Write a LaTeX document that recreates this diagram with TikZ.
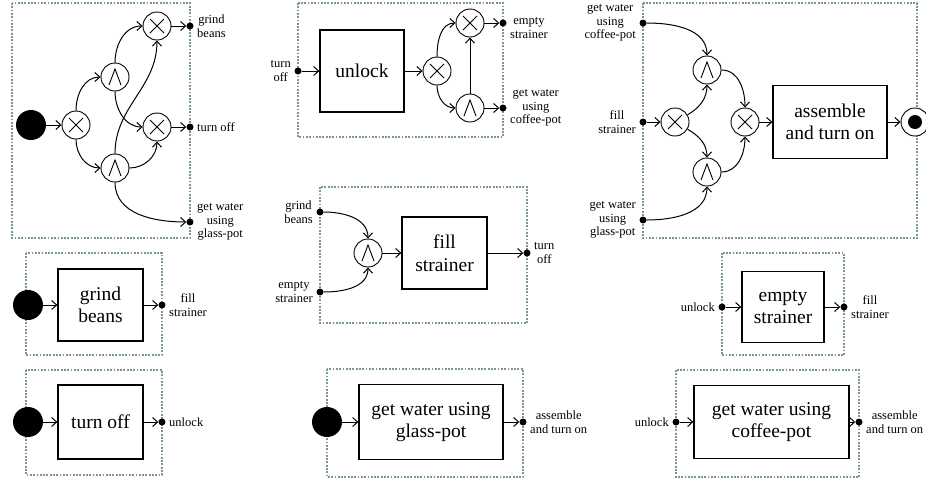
\documentclass[tikz,border=0pt]{standalone}
\usepackage{fontspec}
\setmainfont{Liberation Serif}
\usetikzlibrary{arrows.meta}
\definecolor{framegray}{RGB}{122,150,155}
\newcommand{\lblfont}{\fontsize{12.5}{13.5}\selectfont}
\newcommand{\taskfont}{\fontsize{19.5}{22.5}\selectfont}
\begin{document}
\begin{tikzpicture}[x=1pt, y=1pt,
            frame/.style={draw=framegray, line width=1.8pt, dash pattern=on 1.8pt off 1.5pt},
            gate/.style={circle, draw=black, line width=0.9pt, minimum size=28pt, inner sep=0pt},
            xorgate/.style={gate, path picture={\draw ([shift={(-7,-7)}]path picture bounding box.center) -- ++(14,14)
                ([shift={(-7,7)}]path picture bounding box.center) -- ++(14,-14);}},
            andgate/.style={gate, path picture={\draw ([shift={(-6,-8)}]path picture bounding box.center) -- ++(6,16) -- ++(6,-16);}},
            task/.style={draw=black, line width=1.3pt, align=center, font=\taskfont, inner sep=0pt},
            dot/.style={circle, fill=black, inner sep=0pt, minimum size=7pt},
            start/.style={circle, fill=black, inner sep=0pt, minimum size=30pt},
            endstate/.style={circle, draw=black, fill=white, line width=0.9pt, minimum size=28pt, inner sep=0pt,
                path picture={\fill[black] (path picture bounding box.center) circle (7);}},
            flow/.style={-{Straight Barb[length=5pt, width=9pt]}, line width=1pt},
            every label/.style={font=\lblfont, align=center}]
            \useasboundingbox (0,0) rectangle (926,-483);

            % choices after start
            \draw[frame] (12,-3) rectangle (190,-238);
            \node[start] (s1) at (31,-125) {};
            \node[xorgate] (p1x) at (76,-125) {};
            \node[andgate] (p1a) at (115,-77) {};
            \node[andgate] (p1b) at (115,-168) {};
            \node[xorgate] (p1y) at (157,-26) {};
            \node[xorgate] (p1z) at (157,-127) {};
            \node[dot, label=right:{grind\\beans}] (p1o1) at (190,-26) {};
            \node[dot, label=right:{turn off}] (p1o2) at (190,-127) {};
            \node[dot, label=right:{get water\\using\\glass-pot}] (p1o3) at (190,-222) {};
            \draw[flow] (s1) -- (p1x);
            \draw[flow] (p1x) to[out=90, in=180] (p1a);
            \draw[flow] (p1x) to[out=-90, in=180] (p1b);
            \draw[flow] (p1a) to[out=90, in=180] (p1y);
            \draw[flow] (p1a) to[out=-90, in=180] (p1z);
            \draw[flow] (p1b) to[out=90, in=-90] (p1y);
            \draw[flow] (p1b) to[out=0, in=-90] (p1z);
            \draw[flow] (p1b) to[out=-90, in=180] (p1o3);
            \draw[flow] (p1y) -- (p1o1);
            \draw[flow] (p1z) -- (p1o2);

            % unlock
            \draw[frame] (298,-3) rectangle (503,-137);
            \node[dot, label=left:{turn\\off}] (p2i) at (298,-71) {};
            \node[task, minimum width=84pt, minimum height=82pt] (unlock) at (362,-71) {unlock};
            \node[xorgate] (p2x) at (437,-71) {};
            \node[xorgate] (p2y) at (470,-23) {};
            \node[andgate] (p2a) at (470,-108) {};
            \node[dot, label={[yshift=-5pt]right:{empty\\strainer}}] (p2o1) at (503,-23) {};
            \node[dot, label=right:{get water\\using\\coffee-pot}] (p2o2) at (503,-108) {};
            \draw[flow] (p2i) -- (unlock);
            \draw[flow] (unlock) -- (p2x);
            \draw[flow] (p2x) to[out=90, in=180] (p2y);
            \draw[flow] (p2x) to[out=-90, in=180] (p2a);
            \draw[flow] (p2a) -- (p2y);
            \draw[flow] (p2y) -- (p2o1);
            \draw[flow] (p2a) -- (p2o2);

            % assemble and turn on
            \draw[frame] (643,-3) rectangle (917,-238);
            \node[dot, label=left:{get water\\using\\coffee-pot}] (p3i1) at (643,-23) {};
            \node[dot, label=left:{fill\\strainer}] (p3i2) at (643,-122) {};
            \node[dot, label=left:{get water\\using\\glass-pot}] (p3i3) at (643,-220) {};
            \node[xorgate] (p3x) at (675,-122) {};
            \node[andgate] (p3a) at (707,-70) {};
            \node[andgate] (p3b) at (707,-172) {};
            \node[xorgate] (p3y) at (745,-122) {};
            \node[task, minimum width=114pt, minimum height=73pt] (assemble) at (830,-122) {assemble\\and turn on};
            \node[endstate] (p3e) at (915,-122) {};
            \draw[flow] (p3i1) to[out=0, in=90] (p3a);
            \draw[flow] (p3i2) -- (p3x);
            \draw[flow] (p3x) to[out=30, in=-90] (p3a);
            \draw[flow] (p3x) to[out=-30, in=90] (p3b);
            \draw[flow] (p3i3) to[out=0, in=-90] (p3b);
            \draw[flow] (p3a) to[out=0, in=90] (p3y);
            \draw[flow] (p3b) to[out=0, in=-90] (p3y);
            \draw[flow] (p3y) -- (assemble);
            \draw[flow] (assemble) -- (p3e);

            % fill strainer
            \draw[frame] (320,-187) rectangle (527,-323);
            \node[dot, label=left:{grind\\beans}] (p4i1) at (320,-212) {};
            \node[dot, label=left:{empty\\strainer}] (p4i2) at (320,-292) {};
            \node[andgate] (p4a) at (368,-253) {};
            \node[task, minimum width=85pt, minimum height=72pt] (fill) at (444.5,-253) {fill\\strainer};
            \node[dot, label=right:{turn\\off}] (p4o) at (527,-253) {};
            \draw[flow] (p4i1) to[out=0, in=90] (p4a);
            \draw[flow] (p4i2) to[out=0, in=-90] (p4a);
            \draw[flow] (p4a) -- (fill);
            \draw[flow] (fill) -- (p4o);

            % grind beans
            \draw[frame] (26,-253) rectangle (162,-355);
            \node[start] (s5) at (28,-305) {};
            \node[task, minimum width=85pt, minimum height=72pt] (grind) at (100.5,-305) {grind\\beans};
            \node[dot, label=right:{fill\\strainer}] (p5o) at (162,-305) {};
            \draw[flow] (s5) -- (grind);
            \draw[flow] (grind) -- (p5o);

            % turn off
            \draw[frame] (26,-370) rectangle (162,-475);
            \node[start] (s6) at (28,-422) {};
            \node[task, minimum width=85pt, minimum height=74pt] (turnoff) at (100.5,-422) {turn off};
            \node[dot, label=right:{unlock}] (p6o) at (162,-422) {};
            \draw[flow] (s6) -- (turnoff);
            \draw[flow] (turnoff) -- (p6o);

            % get water using glass-pot
            \draw[frame] (327,-369) rectangle (523,-477);
            \node[start] (s7) at (327,-422) {};
            \node[task, minimum width=144pt, minimum height=75pt] (glass) at (431,-422) {get water using\\glass-pot};
            \node[dot, label=right:{assemble\\and turn on}] (p7o) at (523,-422) {};
            \draw[flow] (s7) -- (glass);
            \draw[flow] (glass) -- (p7o);

            % empty strainer
            \draw[frame] (722,-253) rectangle (844,-355);
            \node[dot, label=left:{unlock}] (p8i) at (722,-307) {};
            \node[task, minimum width=82pt, minimum height=71pt] (empty) at (783,-307) {empty\\strainer};
            \node[dot, label=right:{fill\\strainer}] (p8o) at (844,-307) {};
            \draw[flow] (p8i) -- (empty);
            \draw[flow] (empty) -- (p8o);

            % get water using coffee-pot
            \draw[frame] (676,-370) rectangle (859,-477);
            \node[dot, label=left:{unlock}] (p9i) at (676,-422) {};
            \node[task, minimum width=155pt, minimum height=73pt] (coffee) at (771.5,-422) {get water using\\coffee-pot};
            \node[dot, label=right:{assemble\\and turn on}] (p9o) at (859,-422) {};
            \draw[flow] (p9i) -- (coffee);
            \draw[flow] (coffee) -- (p9o);
        \end{tikzpicture}
\end{document}
